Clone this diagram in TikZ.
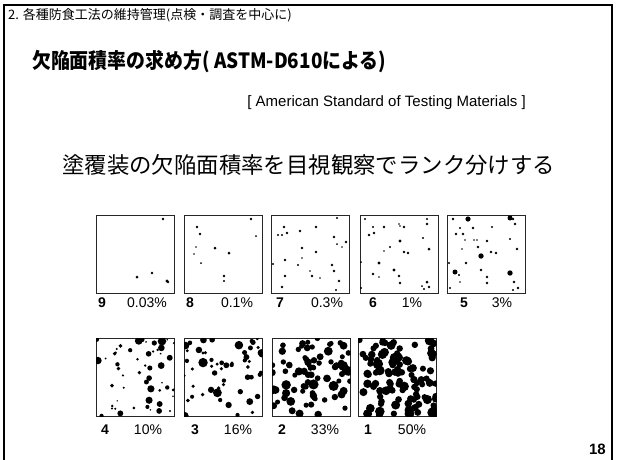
\documentclass[tikz,border=0pt]{standalone}
\usepackage{fontspec}
\setmainfont{Liberation Sans}
\newfontfamily\jp{Noto Sans CJK JP}
\newcommand\densedots[5]{%
 \begin{scope}
 \clip (#1.north west) rectangle (#1.south east);
 \pgfmathsetseed{#5}
 \foreach \i in {1,...,#2}{
   \pgfmathsetmacro\px{78*rnd}
   \pgfmathsetmacro\py{78*rnd}
   \pgfmathsetmacro\rr{#3+#4*rnd*rnd}
   \fill ([shift={(\px,\py)}]#1.north west) circle (\rr);
 }
 \end{scope}}
\newcommand\sparsedots[2]{%
 \begin{scope}
 \clip (#1.north west) rectangle (#1.south east);
 \foreach \a/\b/\r in {#2}{
   \fill ([shift={(\a,\b)}]#1.north west) circle (\r);
 }
 \end{scope}}
\begin{document}
\begin{tikzpicture}[x=1pt,y=-1pt,
 panel/.style={draw=black!85,line width=1pt,minimum width=77.5pt,minimum height=77.5pt,inner sep=0pt,anchor=north west},
 rank/.style={font=\fontsize{14}{16}\selectfont\bfseries,inner sep=0pt},
 pct/.style={font=\fontsize{14}{16}\selectfont,inner sep=0pt}]
\useasboundingbox (0,0) rectangle (617,459);
\fill[white] (0,0) rectangle (617,459);
% frame
\draw[line width=2pt] (4,470) -- (4,5) -- (612,5) -- (612,470);
% texts
\node[anchor=west,inner sep=0pt,font=\jp\fontsize{13}{15}\selectfont] (hdr) at (8,15) {2. 各種防食工法の維持管理(点検・調査を中心に)};
\node[anchor=west,inner sep=0pt,xscale=0.9,font=\jp\bfseries\fontsize{21}{24}\selectfont] (title) at (32,62) {欠陥面積率の求め方( ASTM-D610による)};
\node[anchor=east,inner sep=0pt,font=\fontsize{15}{17}\selectfont] (sub) at (526,103) {[ American Standard of Testing Materials ]};
\node[anchor=west,inner sep=0pt,font=\jp\fontsize{22.4}{24}\selectfont] (lead) at (62,165) {塗覆装の欠陥面積率を目視観察でランク分けする};
\node[anchor=east,inner sep=0pt,font=\fontsize{15}{17}\selectfont\bfseries] (pg) at (606,449) {18};
% row 1 panels
\node[panel] (p9) at (96,215) {};
\node[panel] (p8) at (184,215) {};
\node[panel] (p7) at (271,215) {};
\node[panel] (p6) at (360,215) {};
\node[panel] (p5) at (447,215) {};
% row 2 panels
\node[panel] (p4) at (96,338) {};
\node[panel] (p3) at (184,338) {};
\node[panel] (p2) at (272,338) {};
\node[panel] (p1) at (358,338) {};
% labels row 1
\node[rank] (r9) at (102,303) {9};  \node[pct] (c9) at (147,303) {0.03\%};
\node[rank] (r8) at (190,303) {8};  \node[pct] (c8) at (237,303) {0.1\%};
\node[rank] (r7) at (280,303) {7};  \node[pct] (c7) at (327,303) {0.3\%};
\node[rank] (r6) at (373,303) {6};  \node[pct] (c6) at (412,303) {1\%};
\node[rank] (r5) at (464,303) {5};  \node[pct] (c5) at (502,303) {3\%};
% labels row 2
\node[rank] (r4) at (105,430) {4};  \node[pct] (c4) at (148,430) {10\%};
\node[rank] (r3) at (195,430) {3};  \node[pct] (c3) at (238,430) {16\%};
\node[rank] (r2) at (282,430) {2};  \node[pct] (c2) at (325,430) {33\%};
\node[rank] (r1) at (368,430) {1};  \node[pct] (c1) at (412,430) {50\%};
% sparse dots
\sparsedots{p9}{67/4/1.3, 41/62/1.5, 56/58/1.4, 71/66/1.6, 72/67/1.3}
\sparsedots{p8}{13/12/1.4, 16/19/1.4, 12/32/0.9, 10/39/0.9, 31/33/1.5, 45/38/1.5, 17/48/1.0, 40/61/1.3, 40/66/1.1, 67/4/1.3, 72/21/1.0}
\sparsedots{p7}{13/12/1.4, 16/18/1.3, 11/20/1.1, 7/20/1.1, 29/16/1.4, 45/12/1.4, 66/3/1.2, 63/22/1.3, 66/29/1.0, 71/32/0.9, 75/27/1.3, 31/33/1.3, 45/37/1.4, 31/43/0.9, 14/45/1.4, 2/49/1.1, 27/50/1.2, 39/56/0.9, 41/61/1.3, 49/63/0.9, 61/50/1.3, 63/56/1.4, 68/66/1.4, 14/61/1.3, 11/72/1.3, 65/75/1.1}
\sparsedots{p6}{5/4/1.2, 13/12/1.1, 24/12/1.3, 39/9/0.9, 40/11/0.9, 44/12/1.3, 67/4/1.2, 67/9/1.3, 14/18/1.3, 9/20/1.4, 40/26/1.6, 63/23/1.2, 69/34/1.5, 30/32/1.1, 24/36/0.9, 44/37/1.3, 48/38/1.4, 19/48/1.6, 1/47/1.0, 34/55/1.6, 13/59/1.3, 19/62/0.9, 39/61/1.3, 40/68/1.3, 67/67/1.5, 69/72/1.3, 64/74/1.1, 1/73/1.1, 62/71/1.0}
\sparsedots{p5}{6/4/1.3, 21/4/2.6, 63/3/2.5, 66/4/1.4, 68/9/1.4, 13/13/1.2, 26/13/1.3, 45/12/1.2, 9/19/1.4, 16/19/1.4, 18/25/0.9, 27/25/0.9, 30/25/0.9, 40/26/1.4, 63/24/1.2, 31/32/1.4, 15/34/0.9, 44/37/1.4, 49/38/1.4, 70/34/1.4, 34/41/2.7, 19/48/1.4, 2/48/1.1, 8/57/2.5, 12/60/1.1, 34/55/1.4, 40/62/1.4, 63/58/2.7, 13/67/0.9, 40/68/1.4, 67/67/1.3, 71/73/1.4, 3/73/1.1, 66/75/1.2}
% dense dots
\densedots{p4}{55}{0.8}{4.2}{17}
\densedots{p3}{55}{1.6}{3.4}{59}
\densedots{p2}{85}{2.5}{3.0}{31}
\densedots{p1}{110}{3.0}{2.8}{47}
\end{tikzpicture}
\end{document}
